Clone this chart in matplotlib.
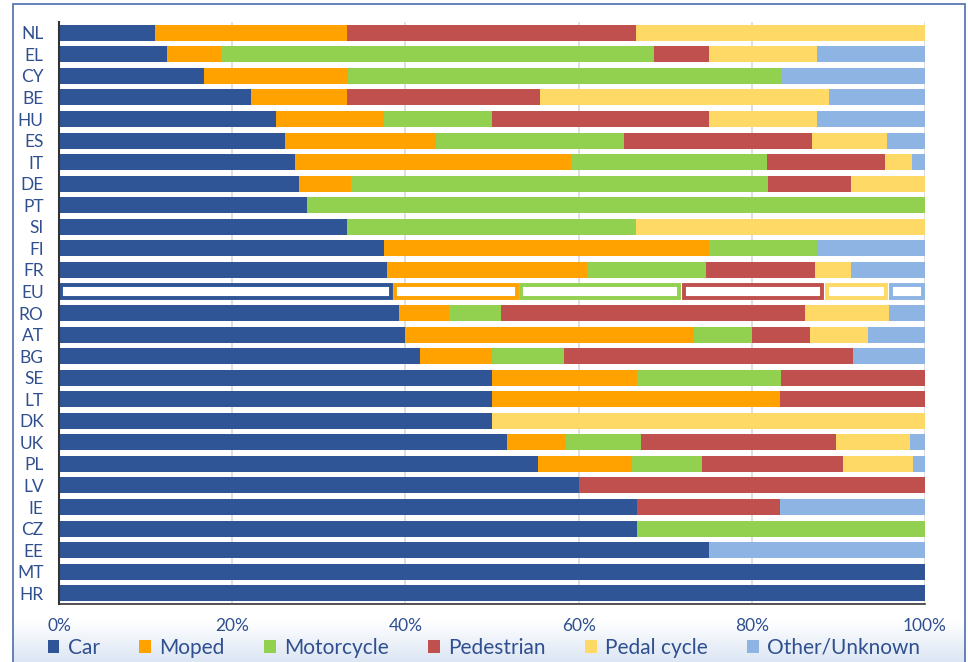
import numpy as np
import matplotlib.pyplot as plt
from matplotlib.patches import Rectangle

plt.rcParams['font.family'] = ['Lato', 'DejaVu Sans']

countries = ['NL', 'EL', 'CY', 'BE', 'HU', 'ES', 'IT', 'DE', 'PT', 'SI', 'FI', 'FR', 'EU',
             'RO', 'AT', 'BG', 'SE', 'LT', 'DK', 'UK', 'PL', 'LV', 'IE', 'CZ', 'EE', 'MT', 'HR']

car = [11.1, 12.5, 16.7, 22.2, 25.0, 26.1, 27.3, 27.7, 28.6, 33.3, 37.5, 37.9, 38.6,
       39.3, 40.0, 41.7, 50.0, 50.0, 50.0, 51.7, 55.3, 60.0, 66.7, 66.7, 75.0, 100, 100]
moped = [22.2, 6.2, 16.7, 11.1, 12.5, 17.4, 31.8, 6.0, 0, 0, 37.5, 23.1, 14.5,
         5.7, 33.3, 8.3, 16.7, 33.3, 0, 6.8, 10.9, 0, 0, 0, 0, 0, 0]
motorcycle = [0, 50.0, 50.0, 0, 12.5, 21.7, 22.6, 48.2, 71.4, 33.3, 12.5, 13.7, 18.8,
              6.0, 6.7, 8.3, 16.7, 0, 0, 8.7, 8.1, 0, 0, 33.3, 0, 0, 0]
pedestrian = [33.3, 6.3, 0, 22.2, 25.0, 21.7, 13.7, 9.6, 0, 0, 0, 12.6, 16.5,
              35.1, 6.7, 33.4, 16.6, 16.7, 0, 22.5, 16.2, 40.0, 16.6, 0, 0, 0, 0]
pedal = [33.4, 12.5, 0, 33.4, 12.5, 8.7, 3.1, 8.5, 0, 33.4, 0, 4.2, 7.4,
         9.7, 6.7, 0, 0, 0, 50.0, 8.6, 8.1, 0, 0, 0, 0, 0, 0]
other = [0, 12.5, 16.6, 11.1, 12.5, 4.4, 1.5, 0, 0, 0, 12.5, 8.5, 4.2,
         4.2, 6.6, 8.3, 0, 0, 0, 1.7, 1.4, 0, 16.7, 0, 25.0, 0, 0]

series = ['Car', 'Moped', 'Motorcycle', 'Pedestrian', 'Pedal cycle', 'Other/Unknown']
values = [car, moped, motorcycle, pedestrian, pedal, other]
colors = ['#2F5597', '#FFA200', '#92D050', '#C0504D', '#FFD966', '#8DB4E2']
text_col = '#2F4F8F'

fig = plt.figure(figsize=(9.68, 6.62), dpi=100)

# legend strip gradient + outer frame
gax = fig.add_axes([12 / 968, 0, 953 / 968, 42 / 662], zorder=0)
grad = np.linspace(0, 1, 50).reshape(-1, 1)
gax.imshow(grad, aspect='auto', cmap=plt.matplotlib.colors.LinearSegmentedColormap.from_list(
    'g', ['#FFFFFF', '#DCE6F4']), extent=[0, 1, 0, 1], origin='upper')
gax.axis('off')
fig.patches.append(Rectangle((12.5 / 968, -0.01), 952 / 968, 1 - 3.5 / 662 + 0.01,
                             transform=fig.transFigure, fill=False,
                             edgecolor='#5A78B0', lw=1.3, zorder=5))

ax = fig.add_axes([59 / 968, 1 - 604 / 662, 866 / 968, 582 / 662], zorder=1)
ax.patch.set_alpha(0)

y = np.arange(len(countries))
left = np.zeros(len(countries))
eu = countries.index('EU')
for name, vals, c in zip(series, values, colors):
    vals = np.array(vals, dtype=float)
    bars = ax.barh(y, vals, left=left, height=0.74, color=c, label=name, zorder=2)
    # EU row: outline only
    b = bars[eu]
    b.set_facecolor('white')
    b.set_edgecolor(c)
    b.set_linewidth(2.8)
    b.set_x(b.get_x() + 0.25)
    b.set_width(max(b.get_width() - 0.5, 0))
    b.set_y(b.get_y() + 0.08)
    b.set_height(b.get_height() - 0.16)
    left += vals

ax.set_ylim(len(countries) - 0.5, -0.5)
ax.set_xlim(0, 100)
ax.set_yticks(y)
ax.set_yticklabels(countries)
ax.set_xticks(np.arange(0, 101, 20))
ax.set_xticklabels([f'{v}%' for v in range(0, 101, 20)])
ax.tick_params(axis='both', length=0, labelsize=12.5, colors=text_col)
ax.tick_params(axis='y', pad=11)
ax.tick_params(axis='x', pad=10)
ax.grid(axis='x', color='#D9D9D9', lw=1.2, zorder=0)
for s in ['top', 'right']:
    ax.spines[s].set_visible(False)
ax.spines['left'].set_color('#333333')
ax.spines['left'].set_linewidth(1.5)
ax.spines['bottom'].set_color('#333333')
ax.spines['bottom'].set_linewidth(1.2)

handles, labels = ax.get_legend_handles_labels()
leg = fig.legend(handles, labels, loc='center', bbox_to_anchor=(0.5, 14 / 662), ncol=6,
                 frameon=False, fontsize=15, handlelength=0.55, handleheight=0.55,
                 handletextpad=0.4, columnspacing=1.9, labelcolor=text_col)

fig.savefig('out.png', dpi=100)
